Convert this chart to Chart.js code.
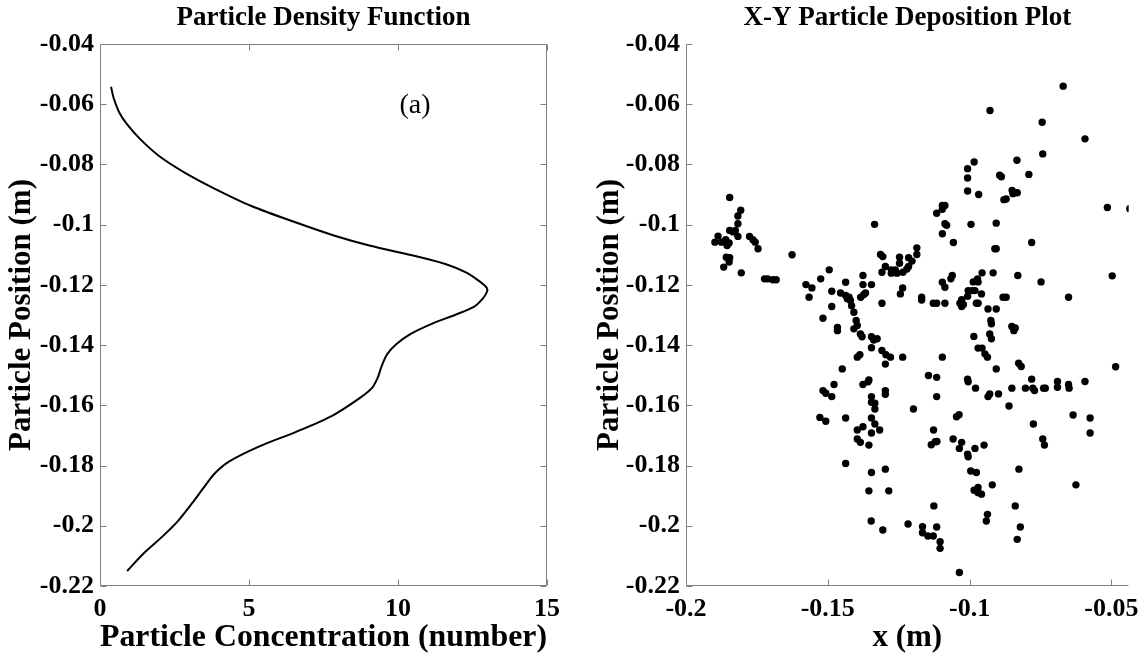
<!DOCTYPE html>
<html><head><meta charset="utf-8">
<script src="https://cdn.jsdelivr.net/npm/chart.js@4.4.1/dist/chart.umd.min.js"></script>
<style>
html,body{margin:0;padding:0;background:#fff;}
#wrap{position:relative;width:1147px;height:657px;overflow:hidden;}
#c1{position:absolute;left:0;top:0;}
#c2{position:absolute;left:580px;top:0;}
</style></head><body>
<div id="wrap">
<canvas id="c1" width="580" height="657"></canvas>
<canvas id="c2" width="567" height="657"></canvas>
</div>
<script>
// ---- Left panel: particle density curve ----
const concentration = [0.37,0.46,0.66,0.91,1.35,1.97,2.84,3.84,5.08,6.58,7.82,9.07,10.31,11.56,12.31,12.62,12.85,12.98,12.99,12.85,12.56,11.93,11.19,10.44,9.94,9.63,9.44,9.32,9.13,8.70,7.82,6.58,5.33,4.34,3.84,3.46,3.09,2.59,2.09,1.47,0.91];
const position = [-0.0542,-0.0580,-0.0630,-0.0667,-0.0716,-0.0771,-0.0827,-0.0880,-0.0938,-0.0993,-0.1035,-0.1070,-0.1098,-0.1130,-0.1160,-0.1180,-0.1197,-0.1210,-0.1222,-0.1245,-0.1272,-0.1299,-0.1327,-0.1362,-0.1397,-0.1431,-0.1473,-0.1508,-0.1542,-0.1577,-0.1633,-0.1688,-0.1737,-0.1786,-0.1827,-0.1876,-0.1925,-0.1987,-0.2036,-0.2091,-0.2150];

// ---- Right panel: deposition points ----
const depX = [
-0.1846,-0.1807,-0.1817,-0.1817,-0.1846,-0.1834,-0.1826,-0.1817,-0.1887,-0.1898,-0.1875,-0.1860,-0.1848,-0.1855,-0.1858,-0.1846,-0.1848,-0.1867,-0.1805,-0.1776,-0.1764,-0.1756,-0.1746,-0.1723,-0.1712,-0.1694,-0.1682,-0.1626,
-0.1335,
-0.1096,-0.1186,-0.1186,-0.1215,-0.1203,-0.1314,-0.1306,-0.1247,-0.1247,-0.1215,-0.1297,-0.1309,-0.1276,-0.1262,-0.1256,-0.1276,-0.1235,-0.1221,-0.1495,-0.1525,-0.1577,-0.1556,-0.1566,-0.1486,-0.1437,-0.1376,-0.1376,-0.1346,-0.1455,-0.1437,-0.1425,-0.1420,-0.1416,-0.1431,-0.1384,-0.1373,-0.1367,-0.1244,-0.1236,-0.1309,-0.1169,-0.1169,-0.1128,-0.1116,-0.1087,-0.1096,-0.1087,-0.1486,-0.1517,-0.1408,-0.1400,-0.1396,-0.1408,-0.1466,-0.1466,-0.1385,-0.1379,-0.1346,-0.1338,-0.1326,-0.1346,-0.1309,-0.1295,-0.1279,-0.1297,-0.1236,-0.1096,-0.1387,-0.1396,-0.1449,-0.1145,-0.1116,-0.1355,
-0.1087,-0.1081,-0.0995,-0.0906,-0.1057,-0.0911,-0.0906,-0.0781,-0.0956,-0.0917,-0.0830,-0.0748,-0.1061,-0.1066,-0.0987,-0.0972,-0.0970,-0.1005,-0.0991,-0.0981,-0.0958,-0.1007,-0.1028,-0.1034,-0.1022,-0.1028,-0.0976,-0.0970,-0.0882,-0.0871,-0.0935,-0.0906,-0.0651,-0.0925,-0.0923,-0.0929,-0.0923,-0.0985,-0.0851,-0.0839,-0.0844,-0.0970,-0.0956,-0.0946,-0.0937,-0.0827,-0.0818,-0.0906,
-0.0670,-0.0928,-0.0744,-0.0593,-0.0742,-0.0833,-0.0984,-0.1007,-0.1007,-0.1007,-0.0968,-0.0894,-0.0888,-0.0791,-0.0850,-0.0832,-0.0847,-0.0879,-0.0871,-0.0514,-0.0435,-0.1096,-0.1087,-0.1116,-0.1096,
-0.0497,-0.0593,-0.0485,-0.0575,-0.0575,-0.0635,
-0.1478,-0.1376,-0.1358,-0.1517,-0.1507,-0.1486,-0.1297,-0.1297,-0.1346,-0.1346,-0.1334,-0.1334,-0.1198,-0.1116,-0.1528,-0.1507,-0.1437,-0.1346,-0.1334,-0.1376,-0.1396,-0.1346,-0.1317,-0.1396,-0.1385,-0.1355,-0.1127,-0.1135,-0.1121,-0.1115,-0.1437,-0.1346,-0.1297,
-0.1007,-0.1005,-0.0979,-0.0935,-0.0929,-0.0898,-0.0861,-0.0851,-0.0803,-0.0781,-0.0777,-0.0771,-0.0739,-0.0733,-0.0690,-0.0690,-0.0651,-0.0649,-0.0775,-0.0742,-0.0736,-0.1046,-0.1037,-0.1058,-0.1028,-0.1036,-0.0981,-0.0949,-0.1007,-0.1005,-0.0996,-0.0976,-0.0826,
-0.1355,-0.1285,-0.1347,-0.1306,-0.1217,-0.1166,-0.1166,-0.1147,-0.1128,-0.1126,-0.1116,-0.1104,-0.1104,-0.1036,-0.0984,-0.0970,-0.0970,-0.0958,-0.0920,-0.0937,-0.0941,-0.0839,-0.0821,-0.0832,-0.0625
];
const depY = [
-0.0910,-0.0952,-0.0971,-0.0997,-0.1019,-0.1024,-0.1019,-0.1039,-0.1038,-0.1058,-0.1058,-0.1050,-0.1061,-0.1069,-0.1108,-0.1110,-0.1124,-0.1141,-0.1160,-0.1039,-0.1050,-0.1058,-0.1080,-0.1180,-0.1180,-0.1183,-0.1183,-0.1100,
-0.0999,
-0.1030,-0.1077,-0.1099,-0.1110,-0.1121,-0.1099,-0.1106,-0.1108,-0.1128,-0.1139,-0.1139,-0.1158,-0.1150,-0.1150,-0.1161,-0.1161,-0.1158,-0.1147,-0.1150,-0.1180,-0.1199,-0.1210,-0.1241,-0.1221,-0.1191,-0.1169,-0.1199,-0.1199,-0.1227,-0.1235,-0.1241,-0.1252,-0.1269,-0.1246,-0.1241,-0.1232,-0.1227,-0.1230,-0.1210,-0.1261,-0.1241,-0.1250,-0.1261,-0.1261,-0.1261,-0.1191,-0.1208,-0.1272,-0.1311,-0.1291,-0.1318,-0.1335,-0.1346,-0.1341,-0.1352,-0.1363,-0.1372,-0.1372,-0.1383,-0.1379,-0.1409,-0.1418,-0.1432,-0.1440,-0.1463,-0.1440,-0.1440,-0.1432,-0.1440,-0.1479,-0.1501,-0.1507,-0.1516,
-0.0997,-0.1002,-0.0999,-0.0995,-0.1059,-0.1080,-0.1080,-0.1059,-0.1160,-0.1160,-0.1169,-0.1190,-0.1169,-0.1180,-0.1190,-0.1180,-0.1190,-0.1219,-0.1219,-0.1219,-0.1230,-0.1238,-0.1249,-0.1261,-0.1265,-0.1272,-0.1261,-0.1261,-0.1241,-0.1241,-0.1280,-0.1280,-0.1241,-0.1318,-0.1329,-0.1363,-0.1379,-0.1371,-0.1338,-0.1343,-0.1352,-0.1410,-0.1410,-0.1429,-0.1440,-0.1460,-0.1471,-0.1479,
-0.0540,-0.0621,-0.0660,-0.0715,-0.0765,-0.0786,-0.0792,-0.0814,-0.0845,-0.0888,-0.0900,-0.0836,-0.0841,-0.0833,-0.0886,-0.0894,-0.0897,-0.0917,-0.0915,-0.0943,-0.0947,-0.0936,-0.0936,-0.0962,-0.0949,
-0.1170,-0.1521,-0.1472,-0.1642,-0.1692,-0.1632,
-0.1531,-0.1531,-0.1522,-0.1551,-0.1560,-0.1571,-0.1551,-0.1563,-0.1571,-0.1590,-0.1593,-0.1612,-0.1612,-0.1571,-0.1640,-0.1653,-0.1642,-0.1642,-0.1662,-0.1671,-0.1682,-0.1692,-0.1682,-0.1712,-0.1723,-0.1732,-0.1682,-0.1731,-0.1721,-0.1720,-0.1793,-0.1823,-0.1812,
-0.1513,-0.1522,-0.1543,-0.1571,-0.1562,-0.1562,-0.1602,-0.1543,-0.1543,-0.1513,-0.1543,-0.1551,-0.1543,-0.1543,-0.1521,-0.1540,-0.1531,-0.1543,-0.1662,-0.1712,-0.1732,-0.1638,-0.1631,-0.1712,-0.1723,-0.1743,-0.1743,-0.1732,-0.1762,-0.1771,-0.1818,-0.1823,-0.1812,
-0.1884,-0.1884,-0.1984,-0.2014,-0.1994,-0.2003,-0.2023,-0.2034,-0.2034,-0.1934,-0.2004,-0.2053,-0.2075,-0.2155,-0.1882,-0.1873,-0.1890,-0.1895,-0.1864,-0.1962,-0.1984,-0.1934,-0.2004,-0.2045,-0.1864
];

// ---- Ticks ----
const yTickValues = [-0.22,-0.2,-0.18,-0.16,-0.14,-0.12,-0.1,-0.08,-0.06,-0.04];
const yTickLabels = ['-0.22','-0.2','-0.18','-0.16','-0.14','-0.12','-0.1','-0.08','-0.06','-0.04'];
const concTickValues = [0,5,10,15];
const concTickLabels = ['0','5','10','15'];
const xTickValues = [-0.2,-0.15,-0.1,-0.05];
const xTickLabels = ['-0.2','-0.15','-0.1','-0.05'];

const FONT = "'Liberation Serif','Times New Roman',serif";
const GRAY = '#808080';

const frame = {
  id: 'frame',
  afterDatasetsDraw(chart, args, opts) {
    const {ctx, chartArea: a, scales: {x, y}} = chart;
    ctx.save();
    ctx.strokeStyle = GRAY; ctx.lineWidth = 1;
    const L = 6;
    const l = Math.round(a.left) + 0.5, r = Math.round(a.right) - 0.5;
    const t = Math.round(a.top) + 0.5, b = Math.round(a.bottom) - 0.5;
    ctx.beginPath();
    ctx.moveTo(l, t); ctx.lineTo(l, b); ctx.lineTo(r, b);
    if (opts.box) { ctx.lineTo(r, t); ctx.lineTo(l, t); }
    x.ticks.forEach(tk => {
      const p = Math.round(x.getPixelForValue(tk.value)) + 0.5;
      ctx.moveTo(p, b); ctx.lineTo(p, b - L);
      if (opts.box) { ctx.moveTo(p, t); ctx.lineTo(p, t + L); }
    });
    y.ticks.forEach(tk => {
      const p = Math.round(y.getPixelForValue(tk.value)) + 0.5;
      ctx.moveTo(l, p); ctx.lineTo(l + L, p);
      if (opts.box) { ctx.moveTo(r, p); ctx.lineTo(r - L, p); }
    });
    ctx.stroke();
    ctx.fillStyle = '#000';
    ctx.font = 'bold 27px ' + FONT;
    ctx.textAlign = 'center'; ctx.textBaseline = 'middle';
    ctx.fillText(opts.title, (a.left + a.right) / 2, 18);
    if (opts.note) {
      ctx.font = '28px ' + FONT;
      ctx.fillText(opts.note.text, x.getPixelForValue(opts.note.x), y.getPixelForValue(opts.note.y));
    }
    ctx.restore();
  }
};

function yScale(padTop) {
  return {
    type: 'linear', min: -0.22, max: -0.04,
    afterBuildTicks: s => { s.ticks = yTickValues.map(v => ({value: v})); },
    grid: {display: false, drawTicks: false}, border: {display: false},
    ticks: {font: {family: FONT, size: 26, weight: 'bold'}, color: '#000', padding: 6, autoSkip: false,
            callback: (v, i) => yTickLabels[i]},
    title: {display: true, text: 'Particle Position (m)', color: '#000',
            font: {family: FONT, size: 31, weight: 'bold'}, padding: {top: padTop, bottom: 0}},
  };
}

new Chart(document.getElementById('c1'), {
  type: 'scatter',
  data: {datasets: [{
    data: concentration.map((c, i) => ({x: c, y: position[i]})),
    showLine: true, borderColor: '#000', borderWidth: 2, pointRadius: 0, tension: 0.3, fill: false
  }]},
  options: {
    responsive: false, animation: false, events: [],
    layout: {padding: {left: 0, right: 33, top: 44, bottom: 0}},
    plugins: {legend: {display: false}, tooltip: {enabled: false},
      frame: {box: true, title: 'Particle Density Function', note: {text: '(a)', x: 10.57, y: -0.0606}}},
    scales: {
      x: {type: 'linear', min: 0, max: 15,
        afterBuildTicks: s => { s.ticks = concTickValues.map(v => ({value: v})); },
        grid: {display: false, drawTicks: false}, border: {display: false},
        ticks: {font: {family: FONT, size: 26, weight: 'bold'}, color: '#000', padding: 8, maxRotation: 0, autoSkip: false,
                callback: (v, i) => concTickLabels[i]},
        title: {display: true, text: 'Particle Concentration (number)', color: '#000',
                font: {family: FONT, size: 32, weight: 'bold'}, padding: {top: 0, bottom: 0}},
        afterFit: s => { s.height = 71; }
      },
      y: Object.assign(yScale(3), {afterFit: s => { s.width = 100; }})
    }
  },
  plugins: [frame]
});

new Chart(document.getElementById('c2'), {
  type: 'scatter',
  data: {datasets: [{
    data: depX.map((v, i) => ({x: v, y: depY[i]})),
    backgroundColor: '#000', borderWidth: 0, pointRadius: 3.7, pointStyle: 'circle'
  }]},
  options: {
    responsive: false, animation: false, events: [],
    layout: {padding: {left: 0, right: 14, top: 44, bottom: 0}},
    plugins: {legend: {display: false}, tooltip: {enabled: false},
      frame: {box: false, title: 'X-Y Particle Deposition Plot'}},
    scales: {
      x: {type: 'linear', min: -0.2, max: -0.0439,
        afterBuildTicks: s => { s.ticks = xTickValues.map(v => ({value: v})); },
        grid: {display: false, drawTicks: false}, border: {display: false},
        ticks: {font: {family: FONT, size: 26, weight: 'bold'}, color: '#000', padding: 8, maxRotation: 0, autoSkip: false,
                callback: (v, i) => xTickLabels[i]},
        title: {display: true, text: 'x (m)', color: '#000',
                font: {family: FONT, size: 31, weight: 'bold'}, padding: {top: 0, bottom: 0}},
        afterFit: s => { s.height = 71; }
      },
      y: Object.assign(yScale(11), {afterFit: s => { s.width = 106; }})
    }
  },
  plugins: [frame]
});
</script>
</body></html>
